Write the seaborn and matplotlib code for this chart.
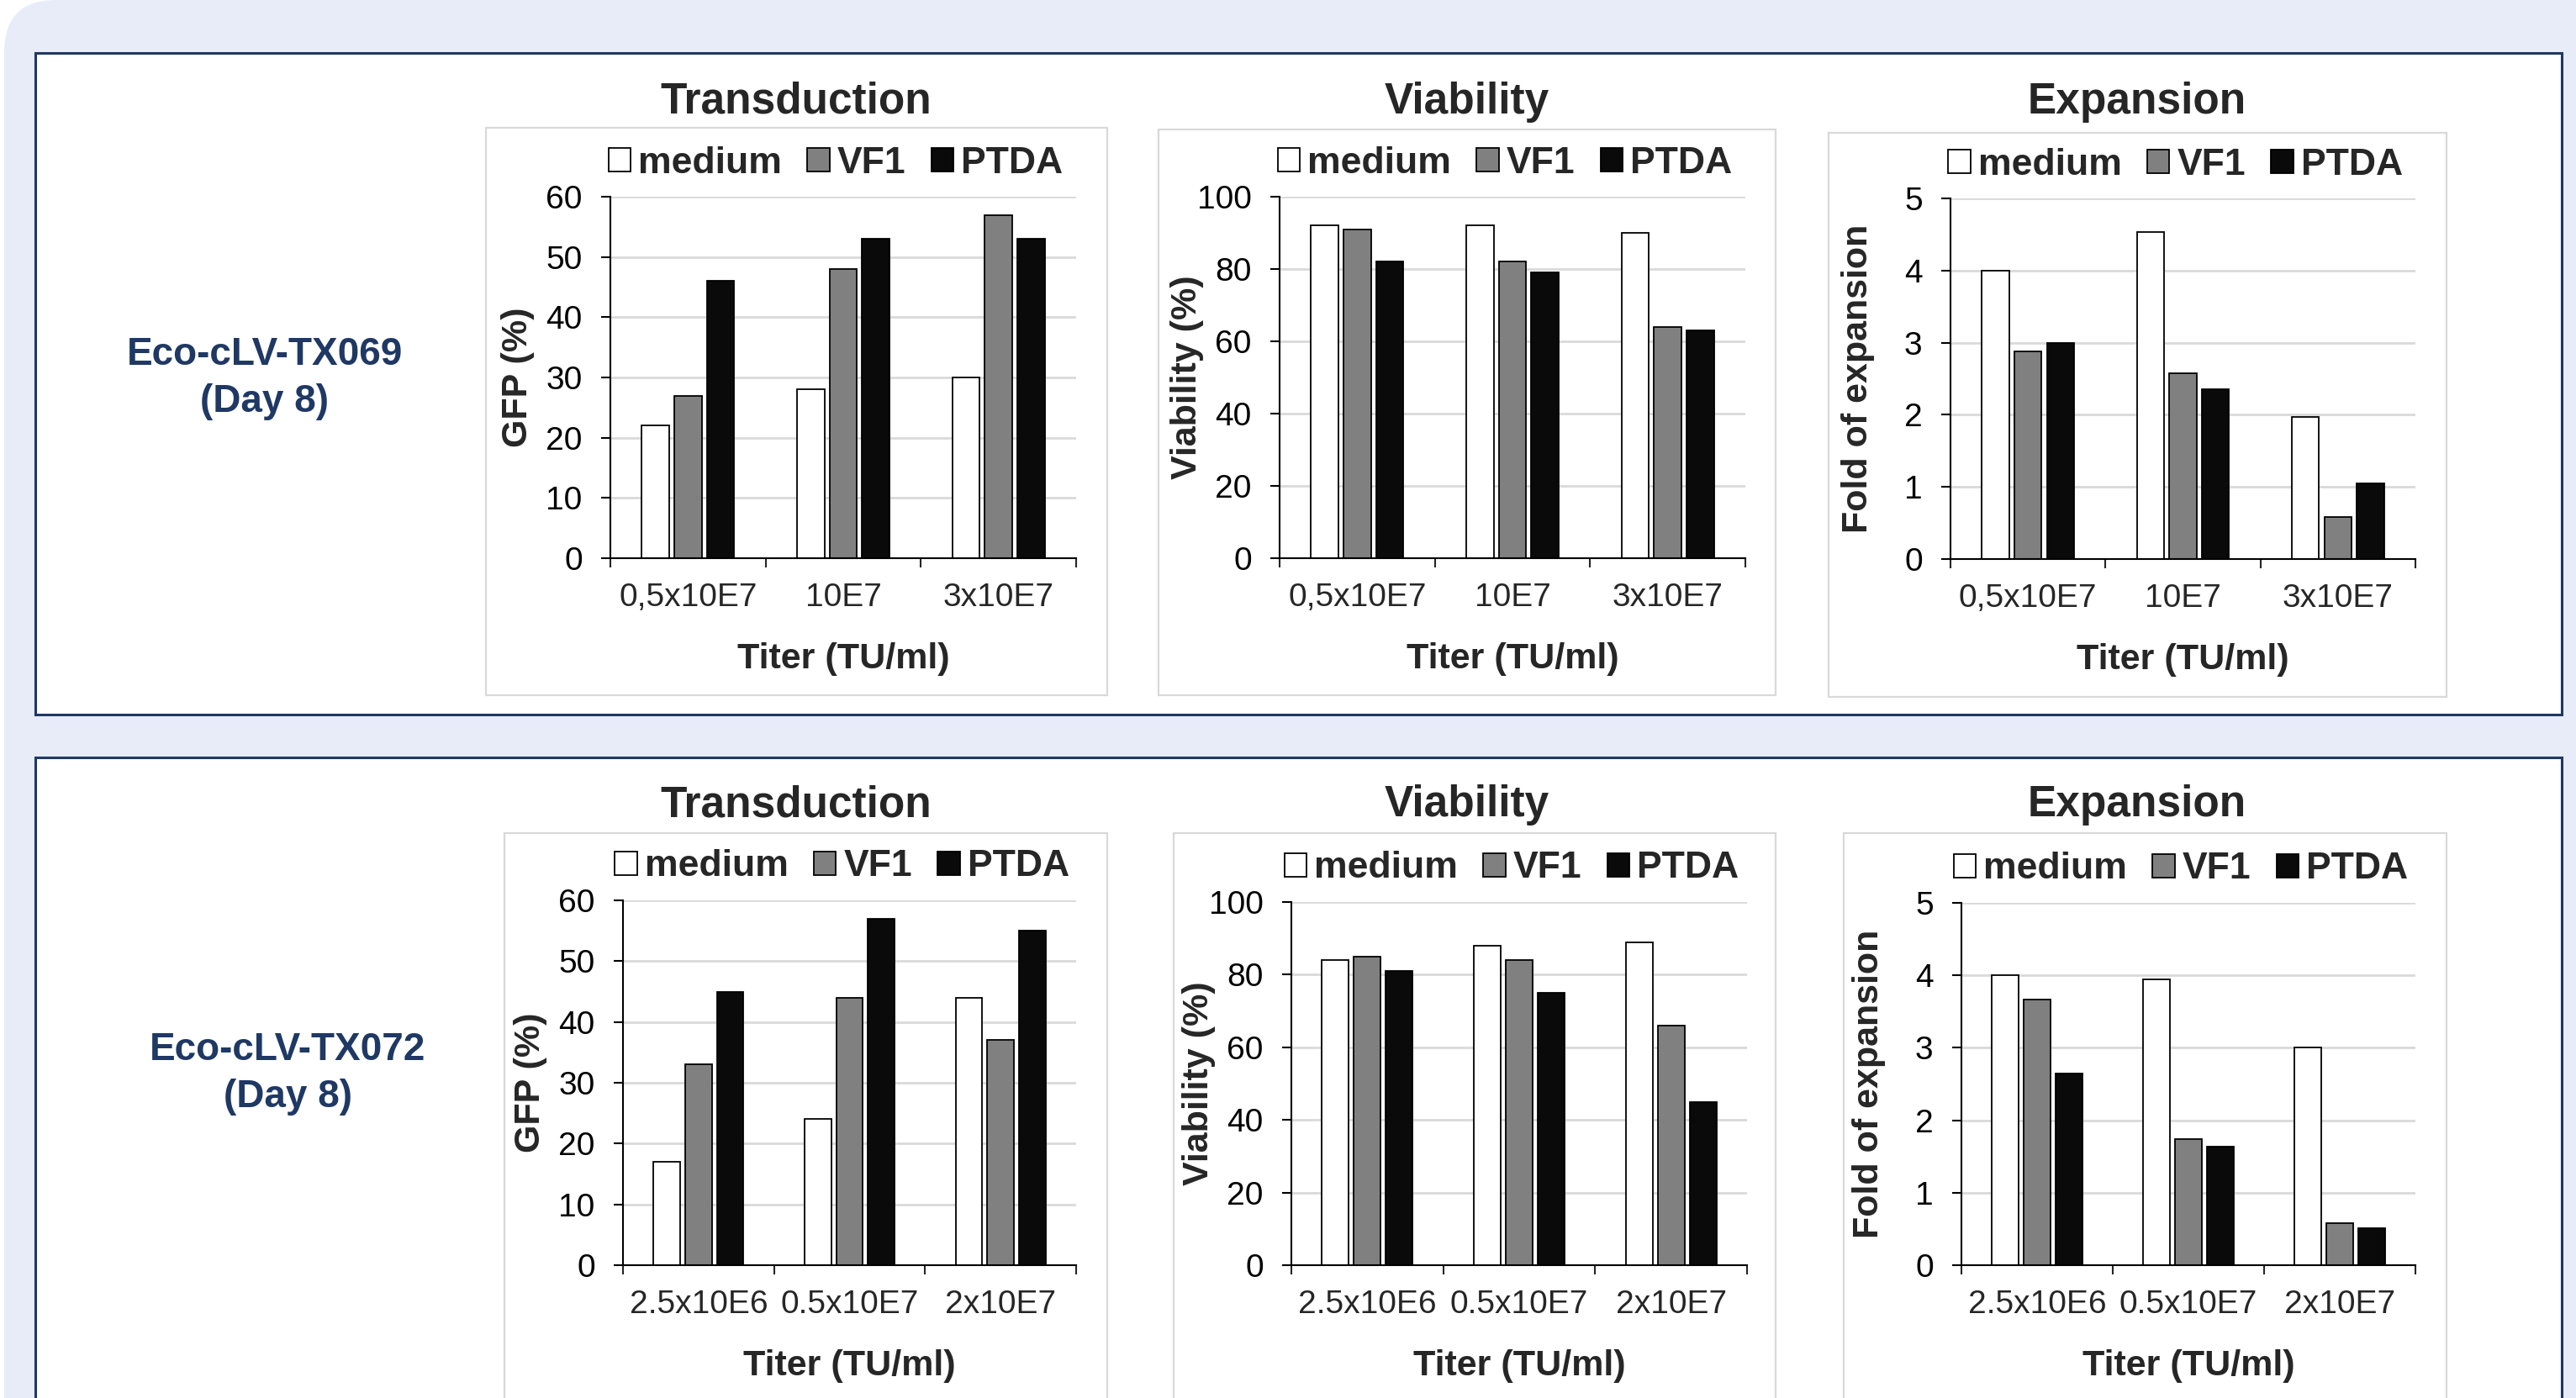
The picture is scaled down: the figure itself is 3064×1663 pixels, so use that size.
import numpy as np
import pandas as pd
import matplotlib
matplotlib.use("Agg")
import matplotlib.pyplot as plt
import matplotlib.transforms as mtransforms
from matplotlib.patches import Rectangle, FancyBboxPatch, Patch
import seaborn as sns

sns.set_style("white")
plt.rcParams['font.family'] = ['Liberation Sans', 'DejaVu Sans']

# ---- data ----
groups = ["medium", "VF1", "PTDA"]
titers_tx069 = ["0,5x10E7", "10E7", "3x10E7"]
titers_tx072 = ["2.5x10E6", "0.5x10E7", "2x10E7"]

# Eco-cLV-TX069 (Day 8)
tx069_gfp_medium = [22, 28, 30]
tx069_gfp_vf1 = [27, 48, 57]
tx069_gfp_ptda = [46, 53, 53]
tx069_via_medium = [92, 92, 90]
tx069_via_vf1 = [91, 82, 64]
tx069_via_ptda = [82, 79, 63]
tx069_exp_medium = [4.0, 4.53, 1.97]
tx069_exp_vf1 = [2.88, 2.58, 0.58]
tx069_exp_ptda = [2.99, 2.36, 1.05]

# Eco-cLV-TX072 (Day 8)
tx072_gfp_medium = [17, 24, 44]
tx072_gfp_vf1 = [33, 44, 37]
tx072_gfp_ptda = [45, 57, 55]
tx072_via_medium = [84, 88, 89]
tx072_via_vf1 = [85, 84, 66]
tx072_via_ptda = [81, 75, 45]
tx072_exp_medium = [4.0, 3.95, 3.0]
tx072_exp_vf1 = [3.67, 1.74, 0.58]
tx072_exp_ptda = [2.65, 1.63, 0.51]

palette = {"medium": "#FFFFFF", "VF1": "#808080", "PTDA": "#0A0A0A"}
navy = "#1F3864"
grid_grey = "#D9D9D9"

W, H = 3064, 1663
fig = plt.figure(figsize=(W / 100, H / 100), dpi=100)
fig.patch.set_facecolor("white")

# pixel coords (y downwards) -> display
pix = mtransforms.Affine2D().scale(1 / W, -1 / H).translate(0, 1) + fig.transFigure


def rect(x0, y0, x1, y1):
    return [x0 / W, 1 - y1 / H, (x1 - x0) / W, (y1 - y0) / H]


# background: lavender rounded sheet + two navy framed boxes
fig.add_artist(FancyBboxPatch((5, 0), 3400, 2000, boxstyle="round,pad=0,rounding_size=62",
                              transform=pix, facecolor="#E8ECF8", edgecolor="none", zorder=-10))
for y0, y1 in [(63, 850), (901, 1800)]:
    fig.add_artist(Rectangle((42, y0), 3005, y1 - y0, transform=pix, facecolor="white",
                             edgecolor=navy, linewidth=2.2, zorder=-9))

# light grey chart-area frames
for x0, y0, x1, y1 in [(578, 152, 1317, 827), (1378, 154, 2112, 827), (2175, 158, 2910, 829),
                       (600, 991, 1317, 1800), (1396, 991, 2112, 1800), (2193, 991, 2910, 1800)]:
    fig.add_artist(Rectangle((x0, y0), x1 - x0, y1 - y0, transform=pix, facecolor="white",
                             edgecolor=grid_grey, linewidth=1.6, zorder=-8))


def draw_panel(ax, titers, medium, vf1, ptda, ymax, ystep, ylabel, ax_w, ax_h):
    df = pd.DataFrame({
        "titer": titers * 3,
        "group": np.repeat(groups, len(titers)),
        "value": list(medium) + list(vf1) + list(ptda),
    })
    sns.barplot(data=df, x="titer", y="value", hue="group", order=titers, hue_order=groups,
                palette=palette, width=0.63, gap=0.16, saturation=1, errorbar=None,
                edgecolor="black", linewidth=1.3, legend=False, ax=ax)
    ax.set_facecolor("none")
    ax.set_xlim(-0.5, len(titers) - 0.5)
    ax.set_ylim(0, ymax)
    ax.set_yticks(np.arange(0, ymax + ystep, ystep))
    ax.yaxis.grid(True, color=grid_grey, linewidth=2)
    ax.xaxis.grid(False)
    ax.set_axisbelow(True)
    for s in ["top", "right"]:
        ax.spines[s].set_visible(False)
    for s in ["left", "bottom"]:
        ax.spines[s].set_color("black")
        ax.spines[s].set_linewidth(1.5)
    ax.tick_params(axis="y", direction="out", length=8, width=1.5, pad=16, labelsize=28,
                   left=True, colors="black")
    ax.tick_params(axis="x", which="major", length=0, pad=21, labelsize=28)
    ax.set_xticks(np.arange(-0.5, len(titers), 1.0), minor=True)
    ax.tick_params(axis="x", which="minor", direction="out", length=8, width=1.5, bottom=True)
    ax.set_xlabel("Titer (TU/ml)", fontsize=31, fontweight="bold", va="center")
    ax.xaxis.set_label_coords(0.5, -120 / ax_h)
    ax.set_ylabel(ylabel, fontsize=31, fontweight="bold", va="center")
    ax.yaxis.set_label_coords(-110 / ax_w, 0.5)
    handles = [Patch(facecolor=palette[g], edgecolor="black", linewidth=1.3, label=g) for g in groups]
    ax.legend(handles=handles, loc="center", bbox_to_anchor=(0.5 - 9 / ax_w, 1 + 40 / ax_h), ncol=3,
              frameon=False, prop={"weight": "bold", "size": 32}, handlelength=0.6,
              handleheight=0.6, handletextpad=0.2, columnspacing=0.68, borderpad=0)


panels = [
    ((726, 234, 1280, 664), titers_tx069, tx069_gfp_medium, tx069_gfp_vf1, tx069_gfp_ptda, 60, 10, "GFP (%)"),
    ((1522, 234, 2076, 664), titers_tx069, tx069_via_medium, tx069_via_vf1, tx069_via_ptda, 100, 20, "Viability (%)"),
    ((2320, 236, 2873, 665), titers_tx069, tx069_exp_medium, tx069_exp_vf1, tx069_exp_ptda, 5, 1, "Fold of expansion"),
    ((741, 1071, 1280, 1505), titers_tx072, tx072_gfp_medium, tx072_gfp_vf1, tx072_gfp_ptda, 60, 10, "GFP (%)"),
    ((1536, 1073, 2078, 1505), titers_tx072, tx072_via_medium, tx072_via_vf1, tx072_via_ptda, 100, 20, "Viability (%)"),
    ((2333, 1074, 2873, 1505), titers_tx072, tx072_exp_medium, tx072_exp_vf1, tx072_exp_ptda, 5, 1, "Fold of expansion"),
]

for (x0, y0, x1, y1), titers, m, v, p, ymax, ystep, ylab in panels:
    ax = fig.add_axes(rect(x0, y0, x1, y1))
    draw_panel(ax, titers, m, v, p, ymax, ystep, ylab, x1 - x0, y1 - y0)

# panel titles
for title, x in [("Transduction", 947), ("Viability", 1745), ("Expansion", 2542)]:
    for y in [121, 958]:
        fig.text(x, y, title, transform=pix, ha="center", va="center", fontsize=37, fontweight="bold")

# row labels
fig.text(315, 450, "Eco-cLV-TX069\n(Day 8)", transform=pix, ha="center", va="center",
         fontsize=33, fontweight="bold", color=navy, linespacing=1.35)
fig.text(342, 1277, "Eco-cLV-TX072\n(Day 8)", transform=pix, ha="center", va="center",
         fontsize=33, fontweight="bold", color=navy, linespacing=1.35)

fig.savefig("out.png", dpi=100)
